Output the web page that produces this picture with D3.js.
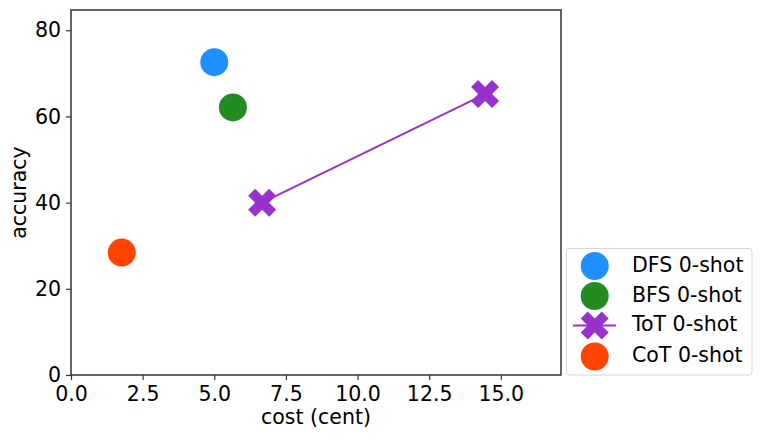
<!DOCTYPE html>
<html>
<head>
<meta charset="utf-8">
<script src="https://cdn.jsdelivr.net/npm/d3@7"></script>
<style>
  body { margin: 0; background: #fff; }
  text { font-family: "DejaVu Sans", sans-serif; fill: #000; }
</style>
</head>
<body>
<div id="chart"></div>
<script>
// data
const methods = ["DFS 0-shot", "BFS 0-shot", "ToT 0-shot", "CoT 0-shot"];
const colors = ["#1E90FF", "#228B22", "#9932CC", "#FF4500"];
const dfsPts = [[5.0, 72.6]];
const bfsPts = [[5.65, 62.1]];
const totPts = [[6.67, 40.0], [14.45, 65.2]];
const cotPts = [[1.77, 28.4]];
const xTicks = [0, 2.5, 5, 7.5, 10, 12.5, 15];
const yTicks = [0, 20, 40, 60, 80];

const width = 762, height = 440;
const margin = {top: 10, right: 201, bottom: 65, left: 71};
const fs = "20.5px";

const svg = d3.select("#chart")
  .append("svg")
  .attr("width", width)
  .attr("height", height);

const x = d3.scaleLinear()
  .domain([0, 17.1])
  .range([margin.left, width - margin.right]);

const y = d3.scaleLinear()
  .domain([0, 84.7])
  .range([height - margin.bottom, margin.top]);

// axes
const xAxis = svg.append("g")
  .attr("transform", `translate(0,${height - margin.bottom})`)
  .call(d3.axisBottom(x).tickValues(xTicks).tickFormat(d3.format(".1f")).tickSize(5).tickPadding(6));

const yAxis = svg.append("g")
  .attr("transform", `translate(${margin.left},0)`)
  .call(d3.axisLeft(y).tickValues(yTicks).tickSize(5).tickPadding(5));

[xAxis, yAxis].forEach(g => {
  g.select(".domain").remove();
  g.selectAll(".tick line").attr("stroke", "#333").attr("stroke-width", 1.2);
  g.selectAll("text").attr("font-size", fs).attr("font-family", "DejaVu Sans");
});

// frame
svg.append("rect")
  .attr("x", margin.left)
  .attr("y", margin.top)
  .attr("width", width - margin.right - margin.left)
  .attr("height", height - margin.bottom - margin.top)
  .attr("fill", "none")
  .attr("stroke", "#333")
  .attr("stroke-width", 1.5);

// axis titles
svg.append("text")
  .attr("x", (margin.left + width - margin.right) / 2)
  .attr("y", 424)
  .attr("text-anchor", "middle")
  .attr("font-size", fs)
  .text("cost (cent)");

svg.append("text")
  .attr("transform", `translate(26,${(margin.top + height - margin.bottom) / 2}) rotate(-90)`)
  .attr("text-anchor", "middle")
  .attr("font-size", fs)
  .text("accuracy");

// filled X marker, a plus turned 45 degrees, arms one third as wide as long
const xMark = (s) => {
  const L = s / 0.943, h = L / 2, q = L / 6;
  const p = [[q, -h], [q, -q], [h, -q], [h, q], [q, q], [q, h],
             [-q, h], [-q, q], [-h, q], [-h, -q], [-q, -q], [-q, -h]];
  const c = Math.SQRT1_2;
  return "M" + p.map(([a, b]) => [(a - b) * c, (a + b) * c].map(v => v.toFixed(2)).join(",")).join("L") + "Z";
};

// ToT line
svg.append("path")
  .datum(totPts)
  .attr("fill", "none")
  .attr("stroke", colors[2])
  .attr("stroke-width", 2)
  .attr("d", d3.line().x(d => x(d[0])).y(d => y(d[1])));

const circleSets = [[dfsPts, colors[0]], [bfsPts, colors[1]], [cotPts, colors[3]]];
circleSets.forEach(([pts, c]) => {
  svg.selectAll(null)
    .data(pts)
    .enter()
    .append("circle")
      .attr("cx", d => x(d[0]))
      .attr("cy", d => y(d[1]))
      .attr("r", 14)
      .attr("fill", c);
});

svg.selectAll(".tot")
  .data(totPts)
  .enter()
  .append("path")
    .attr("class", "tot")
    .attr("transform", d => `translate(${x(d[0])},${y(d[1])})`)
    .attr("d", xMark(28))
    .attr("fill", colors[2]);

// legend
const lg = svg.append("g");
lg.append("rect")
  .attr("x", 566.5)
  .attr("y", 248.5)
  .attr("width", 185.5)
  .attr("height", 126.5)
  .attr("rx", 3)
  .attr("fill", "#fff")
  .attr("stroke", "#d6d6d6")
  .attr("stroke-width", 1);

const rowY = [266, 296, 325.5, 356.5];
methods.forEach((m, i) => {
  const yy = rowY[i];
  if (i === 2) {
    lg.append("line")
      .attr("x1", 573).attr("x2", 616)
      .attr("y1", yy).attr("y2", yy)
      .attr("stroke", colors[i]).attr("stroke-width", 2);
    lg.append("path")
      .attr("transform", `translate(594.7,${yy})`)
      .attr("d", xMark(28))
      .attr("fill", colors[i]);
  } else {
    lg.append("circle")
      .attr("cx", 594.7).attr("cy", yy).attr("r", 14)
      .attr("fill", colors[i]);
  }
  lg.append("text")
    .attr("x", 632)
    .attr("y", yy)
    .attr("dy", "0.29em")
    .attr("font-size", fs)
    .text(m);
});
</script>
</body>
</html>
